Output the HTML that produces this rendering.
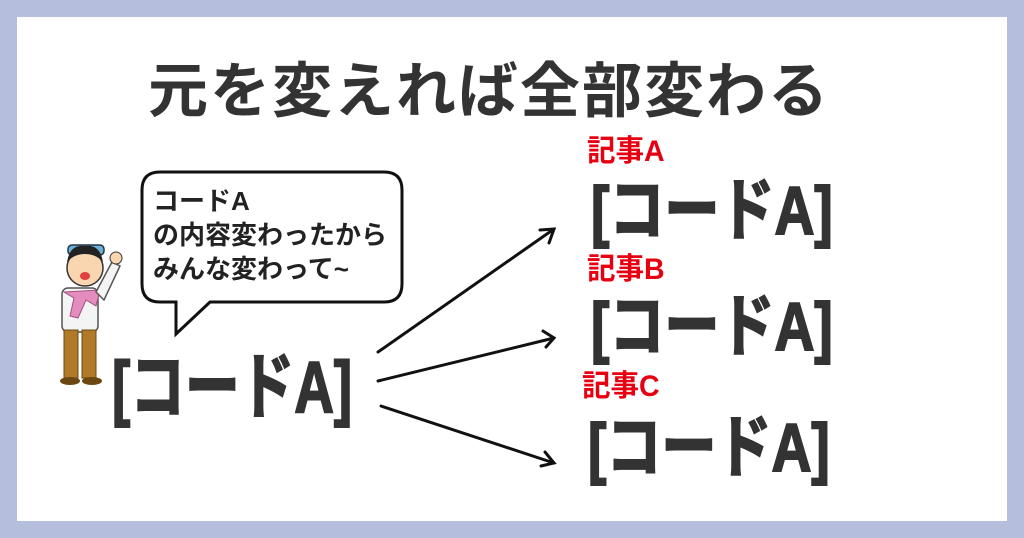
<!DOCTYPE html>
<html><head><meta charset="utf-8"><style>
body{margin:0;width:1024px;height:538px;background:#b5bedd;position:relative;overflow:hidden;font-family:"Liberation Sans","Noto Sans CJK JP",sans-serif;font-weight:bold}
.panel{position:absolute;left:17px;top:17px;width:990px;height:504px;background:#fff}
.t{position:absolute;white-space:nowrap;color:#333;line-height:1}
.red{color:#e60012;font-size:30px;transform:scaleX(0.95);transform-origin:left top}
.code{font-size:68px;transform-origin:left top;-webkit-text-stroke:2px #333}
</style></head><body>
<div class="panel"></div>
<div class="t" style="left:148px;top:62px;font-size:60px;letter-spacing:2px">元を変えれば全部変わる</div>
<svg style="position:absolute;left:0;top:0" width="1024" height="538">
<path d="M160,172 H384 Q402,172 402,190 V284 Q402,302 384,302 H210 L176,334 L176,302 H160 Q142,302 142,284 V190 Q142,172 160,172 Z" fill="#fff" stroke="#111" stroke-width="3"/>
<g stroke="#111" stroke-width="3" fill="none" stroke-linecap="round">
<line x1="378" y1="352" x2="554" y2="229"/><polyline points="540,230 554,229 549,243"/>
<line x1="378" y1="381" x2="554" y2="338"/><polyline points="543,331 554,338 546,347"/>
<line x1="381" y1="406" x2="554" y2="463"/><polyline points="545,452 554,463 541,466"/>
</g>
<rect x="68" y="245" width="36" height="10" rx="4" fill="#6ab0d8" stroke="#234" stroke-width="1.5"/>
<circle cx="85" cy="268" r="18" fill="#f9d5b0" stroke="#333" stroke-width="1.5"/>
<path d="M67,262 Q70,244 85,246 Q100,244 103,262 Q96,254 85,254 Q74,254 67,262Z" fill="#222"/>
<ellipse cx="85" cy="276" rx="5" ry="4" fill="#e04040"/>
<rect x="62" y="288" width="36" height="44" rx="6" fill="#f4f4f4" stroke="#555" stroke-width="1.5"/>
<path d="M64,292 L100,290 L96,306 L86,300 L78,318 L70,316 L74,298 Z" fill="#e58cbf" stroke="#a05080" stroke-width="1"/>
<path d="M96,292 L112,262 L120,266 L104,300Z" fill="#f4f4f4" stroke="#555" stroke-width="1.5"/>
<circle cx="116" cy="258" r="6" fill="#f9d5b0" stroke="#333" stroke-width="1"/>
<rect x="64" y="330" width="14" height="48" fill="#b07a28" stroke="#6b4812" stroke-width="1"/>
<rect x="82" y="330" width="14" height="48" fill="#b07a28" stroke="#6b4812" stroke-width="1"/>
<ellipse cx="70" cy="381" rx="10" ry="4" fill="#6b4812"/>
<ellipse cx="92" cy="381" rx="10" ry="4" fill="#6b4812"/>
</svg>
<div class="t" style="left:153px;top:184px;font-size:26px;line-height:34px;color:#222">コードA<br>の内容変わったから<br>みんな変わって~</div>
<div class="t code" style="left:112px;top:352px;font-size:72px;transform:scaleX(0.76)">[コードA]</div>
<div class="t red" style="left:587px;top:137px">記事A</div>
<div class="t code" style="left:591px;top:177px;transform:scaleX(0.81)">[コードA]</div>
<div class="t red" style="left:587px;top:255px">記事B</div>
<div class="t code" style="left:591px;top:293px;transform:scaleX(0.81)">[コードA]</div>
<div class="t red" style="left:582px;top:372px">記事C</div>
<div class="t code" style="left:588px;top:414px;transform:scaleX(0.81)">[コードA]</div>
</body></html>
